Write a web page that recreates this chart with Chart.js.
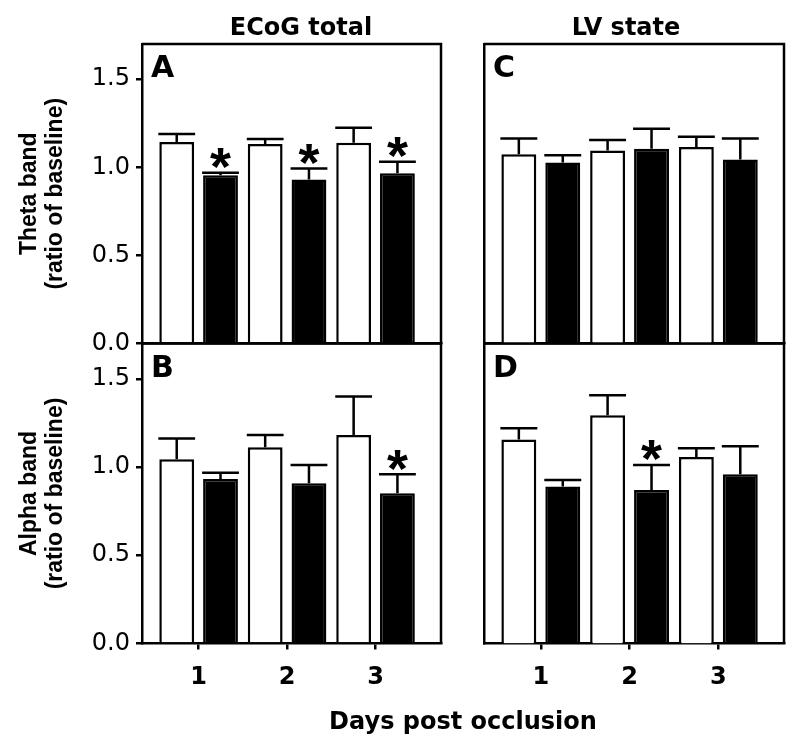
<!DOCTYPE html>
<html>
<head>
<meta charset="utf-8">
<script src="https://cdn.jsdelivr.net/npm/chart.js@4.4.0/dist/chart.umd.min.js"></script>
<style>
html,body{margin:0;padding:0;background:#fff;}
#wrap{position:relative;width:800px;height:745px;background:#fff;}
#wrap canvas{position:absolute;left:0;top:0;width:800px;height:745px;}
</style>
</head>
<body>
<div id="wrap">
<canvas id="cA" width="800" height="745"></canvas>
<canvas id="cB" width="800" height="745"></canvas>
<canvas id="cC" width="800" height="745"></canvas>
<canvas id="cD" width="800" height="745"></canvas>
</div>
<script>
// ---------- data ----------
const days = [1, 2, 3];
const dayTickLabels = ['1', '2', '3'];
const yTickValues = [0, 0.5, 1.0, 1.5];
const yTickLabels = ['0.0', '0.5', '1.0', '1.5'];
const panelLetters = ['A', 'B', 'C', 'D'];
const columnTitles = ['ECoG total', 'LV state'];
const rowTitleTheta = ['Theta band', '(ratio of baseline)'];
const rowTitleAlpha = ['Alpha band', '(ratio of baseline)'];
const xAxisTitle = 'Days post occlusion';

// Panel A: Theta band, ECoG total
const thetaEcogOpen = [1.144, 1.133, 1.139];
const thetaEcogOpenErr = [0.045, 0.028, 0.085];
const thetaEcogFilled = [0.955, 0.931, 0.967];
const thetaEcogFilledErr = [0.014, 0.063, 0.065];
const thetaEcogStars = [true, true, true];

// Panel B: Alpha band, ECoG total
const alphaEcogOpen = [1.044, 1.112, 1.182];
const alphaEcogOpenErr = [0.117, 0.070, 0.218];
const alphaEcogFilled = [0.932, 0.908, 0.851];
const alphaEcogFilledErr = [0.036, 0.104, 0.108];
const alphaEcogStars = [false, false, true];

// Panel C: Theta band, LV state
const thetaLvOpen = [1.074, 1.095, 1.115];
const thetaLvOpenErr = [0.090, 0.060, 0.058];
const thetaLvFilled = [1.028, 1.106, 1.044];
const thetaLvFilledErr = [0.041, 0.113, 0.119];
const thetaLvStars = [false, false, false];

// Panel D: Alpha band, LV state
const alphaLvOpen = [1.156, 1.294, 1.057];
const alphaLvOpenErr = [0.064, 0.113, 0.050];
const alphaLvFilled = [0.889, 0.870, 0.959];
const alphaLvFilledErr = [0.038, 0.142, 0.159];
const alphaLvStars = [false, true, false];

// ---------- layout ----------
const W = 800, H = 745;
const Y_AXIS_W = 60, X_AXIS_H = 50;
const LW = 2.5;
const boxes = {
  A: {left: 142, top: 44, right: 441, bottom: 343.5},
  B: {left: 142, top: 343.5, right: 441, bottom: 643.5},
  C: {left: 484, top: 44, right: 784, bottom: 343.5},
  D: {left: 484, top: 343.5, right: 784, bottom: 643.5}
};

const deco = {
  id: 'deco',
  afterDatasetsDraw(chart) {
    const ctx = chart.ctx;
    const ys = chart.scales.y;
    ctx.save();
    ctx.strokeStyle = '#000';
    ctx.fillStyle = '#000';
    ctx.lineWidth = LW;
    chart.data.datasets.forEach((ds, di) => {
      const meta = chart.getDatasetMeta(di);
      meta.data.forEach((el, i) => {
        const v = ds.data[i].y;
        const top = ys.getPixelForValue(v + ds.err[i]);
        const half = el.width / 2 + 1;
        ctx.beginPath();
        ctx.moveTo(el.x, el.y);
        ctx.lineTo(el.x, top);
        ctx.moveTo(el.x - half, top);
        ctx.lineTo(el.x + half, top);
        ctx.stroke();
        if (ds.stars && ds.stars[i]) {
          drawStar(ctx, el.x, top - 14);
        }
      });
    });
    ctx.restore();
  },
  afterDraw(chart, args, opts) {
    const ctx = chart.ctx;
    const a = chart.chartArea;
    ctx.save();
    ctx.strokeStyle = '#000';
    ctx.lineWidth = LW;
    ctx.beginPath();
    ctx.moveTo(a.left, a.top);
    ctx.lineTo(a.right, a.top);
    ctx.lineTo(a.right, a.bottom);
    ctx.stroke();
    ctx.fillStyle = '#000';
    // panel letter
    ctx.font = 'bold 30px "DejaVu Sans"';
    ctx.textAlign = 'left';
    ctx.textBaseline = 'alphabetic';
    ctx.fillText(opts.letter, a.left + 9, a.top + 33);
    if (opts.colTitle) {
      ctx.font = 'bold 24px "DejaVu Sans"';
      ctx.textAlign = 'center';
      ctx.fillText(opts.colTitle, opts.colTitleX, 35);
    }
    if (opts.rowTitle) {
      ctx.font = 'bold 23px "Liberation Sans"';
      ctx.textAlign = 'center';
      ctx.textBaseline = 'middle';
      const cy = (a.top + a.bottom) / 2;
      opts.rowTitle.forEach((t, i) => {
        ctx.save();
        ctx.translate(30 + i * 26, cy);
        ctx.rotate(-Math.PI / 2);
        ctx.fillText(t, 0, 0);
        ctx.restore();
      });
    }
    if (opts.xTitle) {
      ctx.font = 'bold 24px "DejaVu Sans"';
      ctx.textAlign = 'center';
      ctx.textBaseline = 'alphabetic';
      ctx.fillText(opts.xTitle, 463, 729);
    }
    ctx.restore();
  }
};

function drawStar(ctx, cx, cy) {
  ctx.save();
  ctx.font = 'bold 100px "Liberation Sans"';
  let m = ctx.measureText('*');
  const w100 = m.actualBoundingBoxLeft + m.actualBoundingBoxRight;
  const size = 100 * 21 / w100;
  ctx.font = 'bold ' + size + 'px "Liberation Sans"';
  ctx.textAlign = 'left';
  ctx.textBaseline = 'alphabetic';
  m = ctx.measureText('*');
  const gx = cx - (m.actualBoundingBoxRight - m.actualBoundingBoxLeft) / 2;
  const gy = cy + (m.actualBoundingBoxAscent - m.actualBoundingBoxDescent) / 2;
  ctx.fillText('*', gx, gy);
  ctx.restore();
}

function makePanel(canvasId, box, open, openErr, filled, filledErr, stars, showY, showX, decoOpts) {
  const cfg = {
    type: 'bar',
    data: {
      datasets: [
        {label: 'open', data: days.map((d, i) => ({x: d, y: open[i]})), err: openErr, stars: null,
         backgroundColor: '#fff', borderColor: '#000', borderWidth: LW},
        {label: 'filled', data: days.map((d, i) => ({x: d, y: filled[i]})), err: filledErr, stars: stars,
         backgroundColor: '#000', borderColor: '#000', borderWidth: LW}
      ]
    },
    options: {
      responsive: false,
      animation: false,
      devicePixelRatio: 1,
      layout: {padding: {
        left: box.left - Y_AXIS_W,
        top: box.top,
        right: W - box.right,
        bottom: H - box.bottom - (showX ? X_AXIS_H : 0)
      }},
      datasets: {bar: {categoryPercentage: 0.99, barPercentage: 0.795}},
      scales: {
        x: {
          type: 'linear', min: 0.36, max: 3.74, offset: false,
          afterBuildTicks: s => { s.ticks = days.map(v => ({value: v})); },
          afterFit: s => { s.height = showX ? X_AXIS_H : 0; },
          border: {display: true, color: '#000', width: LW},
          grid: {display: showX, offset: false, drawOnChartArea: false, drawTicks: true, tickLength: 6, color: '#000', lineWidth: LW},
          ticks: {display: showX, padding: 14, color: '#000', autoSkip: false, maxRotation: 0,
                  font: {family: 'DejaVu Sans', weight: 'bold', size: 24},
                  callback: (v, i) => dayTickLabels[i]}
        },
        y: {
          type: 'linear', min: 0, max: 1.7,
          afterBuildTicks: s => { s.ticks = yTickValues.map(v => ({value: v})); },
          afterFit: s => { s.width = Y_AXIS_W; },
          border: {display: true, color: '#000', width: LW},
          grid: {display: showY, drawOnChartArea: false, drawTicks: true, tickLength: 6, color: '#000', lineWidth: LW},
          ticks: {display: showY, padding: 6, color: '#000',
                  font: {family: 'DejaVu Sans', size: 24},
                  callback: (v, i) => yTickLabels[i]}
        }
      },
      plugins: {legend: {display: false}, tooltip: {enabled: false}, deco: decoOpts}
    },
    plugins: [deco]
  };
  return new Chart(document.getElementById(canvasId), cfg);
}

makePanel('cA', boxes.A, thetaEcogOpen, thetaEcogOpenErr, thetaEcogFilled, thetaEcogFilledErr, thetaEcogStars,
  true, false, {letter: panelLetters[0], colTitle: columnTitles[0], colTitleX: 301, rowTitle: rowTitleTheta});
makePanel('cB', boxes.B, alphaEcogOpen, alphaEcogOpenErr, alphaEcogFilled, alphaEcogFilledErr, alphaEcogStars,
  true, true, {letter: panelLetters[1], rowTitle: rowTitleAlpha, xTitle: xAxisTitle});
makePanel('cC', boxes.C, thetaLvOpen, thetaLvOpenErr, thetaLvFilled, thetaLvFilledErr, thetaLvStars,
  false, false, {letter: panelLetters[2], colTitle: columnTitles[1], colTitleX: 626});
makePanel('cD', boxes.D, alphaLvOpen, alphaLvOpenErr, alphaLvFilled, alphaLvFilledErr, alphaLvStars,
  false, true, {letter: panelLetters[3]});
</script>
</body>
</html>
